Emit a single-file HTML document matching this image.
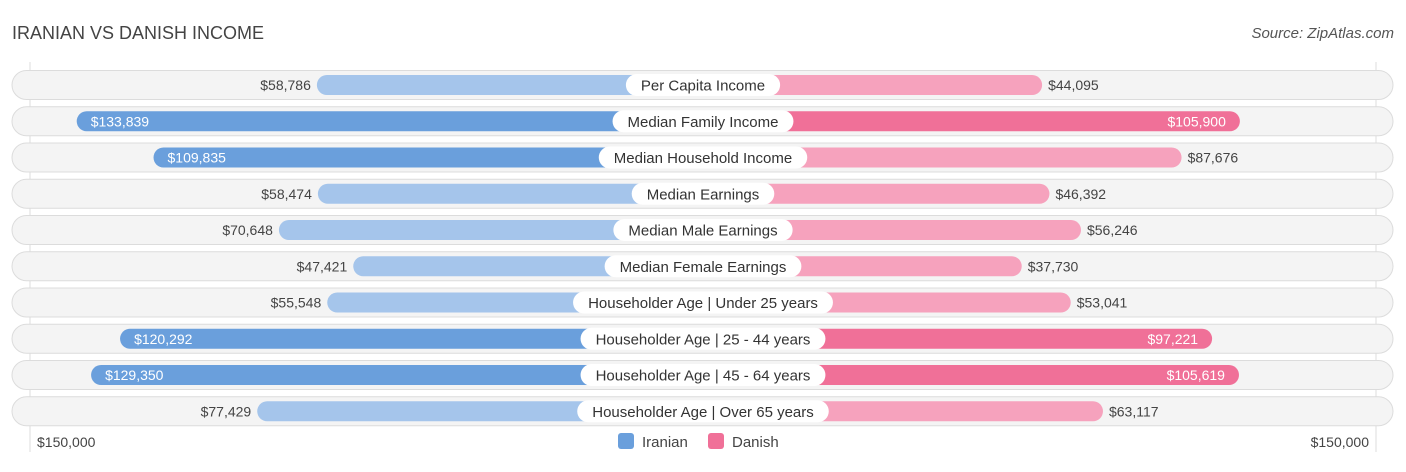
<!DOCTYPE html>
<html><head><meta charset="utf-8"><style>
body{margin:0;background:#fff;font-family:"Liberation Sans",Roboto,sans-serif}
svg text{font-family:"Liberation Sans",sans-serif}
</style></head><body>
<svg id="c" width="1406" height="467">
<text x="12" y="39" font-size="18" fill="#444">IRANIAN VS DANISH INCOME</text>
<text x="1394" y="38" font-size="15" fill="#555" text-anchor="end" font-style="italic">Source: ZipAtlas.com</text>
<line x1="30" y1="62" x2="30" y2="452" stroke="#ddd"/>
<line x1="1376" y1="62" x2="1376" y2="452" stroke="#ddd"/>
<g id="rows"></g>
<text x="37" y="447" font-size="14" fill="#444">$150,000</text>
<text x="1369" y="447" font-size="14" fill="#444" text-anchor="end">$150,000</text>
<rect x="618" y="433" width="16" height="16" rx="3" fill="#6a9fdc"/>
<text x="642" y="447" font-size="15" fill="#444">Iranian</text>
<rect x="708" y="433" width="16" height="16" rx="3" fill="#f07098"/>
<text x="732" y="447" font-size="15" fill="#444">Danish</text>
</svg>
<script>
const categories=["Per Capita Income","Median Family Income","Median Household Income","Median Earnings","Median Male Earnings","Median Female Earnings","Householder Age | Under 25 years","Householder Age | 25 - 44 years","Householder Age | 45 - 64 years","Householder Age | Over 65 years"];
const iranian=[58786,133839,109835,58474,70648,47421,55548,120292,129350,77429];
const danish=[44095,105900,87676,46392,56246,37730,53041,97221,105619,63117];
const NS="http://www.w3.org/2000/svg";
const g=document.getElementById('rows');
const cx=703, off=198, k=3.2/1000;
const len=v=>off+v*k;
const fmt=v=>'$'+v.toLocaleString('en-US');
function mk(t,a){const e=document.createElementNS(NS,t);for(const x in a)e.setAttribute(x,a[x]);g.appendChild(e);return e;}
categories.forEach((c,i)=>{
  const y=85+i*36.25;
  const bg=mk('rect',{x:12,y:y-14.5,width:1381,height:29,rx:14.5,fill:'#f4f4f4',stroke:'#dcdcdc'});
  
  
  const vi=iranian[i], vd=danish[i];
  const strongI=vi>95000, strongD=vd>95000;
  const li=len(vi), ld=len(vd);
  const bi=mk('rect',{x:cx-li,y:y-10,width:li,height:20,rx:10,fill:strongI?'#6a9fdc':'#a5c5eb'});
  
  
  const bd=mk('rect',{x:cx,y:y-10,width:ld,height:20,rx:10,fill:strongD?'#f07098':'#f6a2bd'});
  
  
  const ti=mk('text',{x:strongI?cx-li+14:cx-li-6,y:y+5,'font-size':14,fill:strongI?'#fff':'#444','text-anchor':strongI?'start':'end'});
  ti.textContent=fmt(vi);
  
  
  const td=mk('text',{x:strongD?cx+ld-14:cx+ld+6,y:y+5,'font-size':14,fill:strongD?'#fff':'#444','text-anchor':strongD?'end':'start'});
  td.textContent=fmt(vd);
  
  
  const lab=mk('text',{x:cx,y:y+5.5,'font-size':15,fill:'#333','text-anchor':'middle'});
  lab.textContent=c;
  const w=lab.getComputedTextLength()+30;
  const pill=mk('rect',{x:cx-w/2,y:y-11,width:w,height:22,rx:11,fill:'#fff'});
  g.insertBefore(pill,lab);
  
  
  
  
});
</script>
</body></html>
